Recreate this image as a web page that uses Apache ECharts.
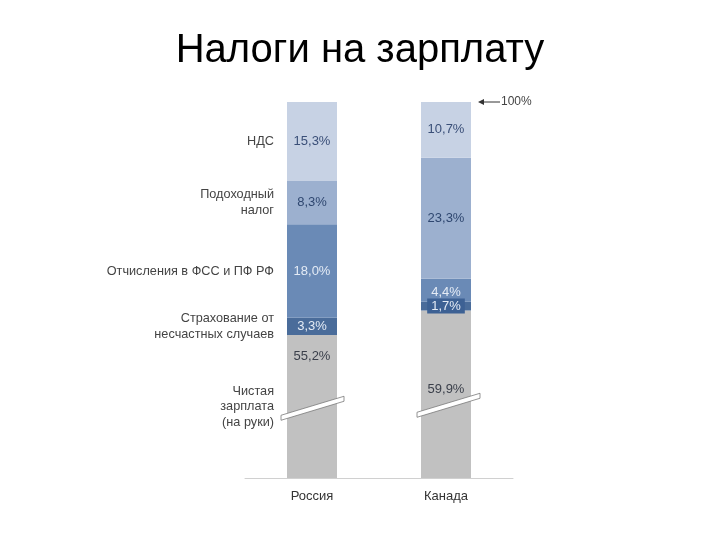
<!DOCTYPE html>
<html><head><meta charset="utf-8">
<script src="https://cdn.jsdelivr.net/npm/echarts@6/dist/echarts.min.js"></script>
<style>html,body{margin:0;padding:0;background:#fff}#c{width:720px;height:540px}</style>
</head><body><div id="c"></div>
<script>
// ---- data ----
const titleText = 'Налоги на зарплату';
const countries = ['Россия', 'Канада'];
const segmentNames = ['Чистая\nзарплата\n(на руки)', 'Страхование от\nнесчастных случаев', 'Отчисления в ФСС и ПФ РФ', 'Подоходный\nналог', 'НДС'];
const netPay = [55.2, 59.9];
const accident = [3.3, 1.7];
const social = [18.0, 4.4];
const incomeTax = [8.3, 23.3];
const vat = [15.3, 10.7];
const totalLabel = '100%';

// ---- styling ----
const FONT = 'Liberation Sans, Arial, sans-serif';
const yMin = 27.7, yMax = 100;
const colors = ['#c1c1c1', '#4a6c9a', '#6a8ab6', '#9cb0cf', '#c7d2e4'];
const labelColors = ['#3a3f4a', '#e4ebf5', '#e4ebf5', '#2f4770', '#3a4f78'];
const allSeries = [netPay, accident, social, incomeTax, vat];
const fmt = v => v.toFixed(1).replace('.', ',') + '%';

const chart = echarts.init(document.getElementById('c'));

const series = allSeries.map((arr, si) => ({
  type: 'bar',
  name: segmentNames[si],
  stack: 'total',
  barWidth: 50,
  clip: true,
  itemStyle: { color: colors[si] },
  label: {
    show: true, position: 'inside', fontFamily: FONT, fontSize: 13,
    color: labelColors[si], formatter: p => fmt(p.value)
  },
  data: arr.map((v, ci) => {
    const item = { value: v };
    if (si === 0) item.label = { position: 'insideTop', offset: [0, ci === 0 ? 10 : 67] };
    if (si === 1 && ci === 1) item.label = { backgroundColor: '#3d6194', padding: [1, 4], offset: [0, 0] };
    if (si === 2 && ci === 1) item.label = { offset: [0, 2] };
    return item;
  })
}));

chart.setOption({
  animation: false,
  backgroundColor: '#fff',
  title: {
    text: titleText, left: 'center', top: 26,
    textStyle: { fontFamily: FONT, fontSize: 40, fontWeight: 'normal', color: '#000' }
  },
  grid: { left: 245, width: 268, top: 102, bottom: 62 },
  xAxis: {
    type: 'category', data: countries,
    axisLine: { lineStyle: { color: '#d0d0d0', width: 1 } },
    axisTick: { show: false },
    axisLabel: { fontFamily: FONT, fontSize: 13, color: '#333', margin: 12 }
  },
  yAxis: {
    type: 'value', min: yMin, max: yMax, show: false, splitLine: { show: false }
  },
  series: series
});

// ---- annotations derived from scales ----
const px = (c, v) => chart.convertToPixel({ xAxisIndex: 0, yAxisIndex: 0 }, [c, v]);
const g = [];
// left labels at Russia segment centers
let cum = 0;
allSeries.forEach((arr, si) => {
  const lo = Math.max(cum, yMin), hi = cum + arr[0];
  cum = hi;
  const p = px(countries[0], (lo + hi) / 2);
  g.push({
    type: 'text', x: p[0] - 25 - 13, y: p[1],
    style: { text: segmentNames[si], fontFamily: FONT, fontSize: 12.7, lineHeight: 15.5,
      fill: '#444', align: 'right', verticalAlign: 'middle' }
  });
});
// break marks
const breakVal = 41.3;
const breakShift = [0, -3];
countries.forEach((c, i) => {
  const p = px(c, breakVal);
  const cx = p[0] + i * 2, cy = p[1] + breakShift[i];
  g.push({
    type: 'polygon', z: 100,
    shape: { points: [[cx - 31, cy + 8], [cx + 32, cy - 11], [cx + 32, cy - 6], [cx - 31, cy + 13]] },
    style: { fill: '#fff', stroke: '#7a7a7a', lineWidth: 0.8 }
  });
});
// 100% arrow
const t = px(countries[1], yMax);
const ax = t[0] + 25 + 7;
g.push({ type: 'line', shape: { x1: ax + 4, y1: t[1], x2: ax + 22, y2: t[1] }, style: { stroke: '#333', lineWidth: 1 } });
g.push({ type: 'polygon', shape: { points: [[ax, t[1]], [ax + 6, t[1] - 3], [ax + 6, t[1] + 3]] }, style: { fill: '#333' } });
g.push({ type: 'text', x: ax + 23, y: t[1], style: { text: totalLabel, fontFamily: FONT, fontSize: 12, fill: '#444', verticalAlign: 'middle' } });

chart.setOption({ graphic: g });
</script>
</body></html>
